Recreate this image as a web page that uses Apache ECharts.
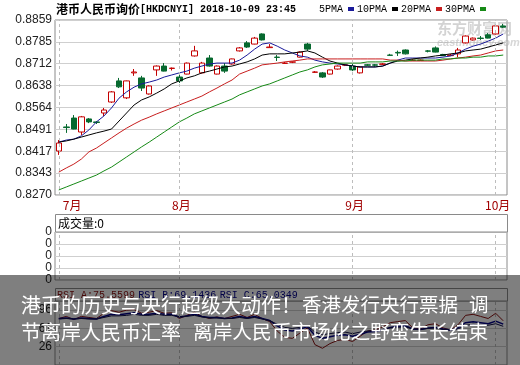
<!DOCTYPE html>
<html><head><meta charset="utf-8">
<script src="https://cdn.jsdelivr.net/npm/echarts@6/dist/echarts.min.js"></script>
<style>html,body{margin:0;padding:0;background:#fff}#c{width:520px;height:365px}</style>
</head><body><div id="c"></div>
<script>
const categories = [
 '2018-07-10','2018-07-11','2018-07-12','2018-07-13','2018-07-16','2018-07-17','2018-07-18','2018-07-19','2018-07-20','2018-07-23','2018-07-24','2018-07-25','2018-07-26','2018-07-27','2018-07-30','2018-07-31',
 '2018-08-01','2018-08-02','2018-08-03','2018-08-06','2018-08-07','2018-08-08','2018-08-09','2018-08-10','2018-08-13','2018-08-14','2018-08-15','2018-08-16','2018-08-17','2018-08-20','2018-08-21','2018-08-22','2018-08-23','2018-08-24','2018-08-27','2018-08-28','2018-08-29','2018-08-30','2018-08-31',
 '2018-09-03','2018-09-04','2018-09-05','2018-09-06','2018-09-07','2018-09-10','2018-09-11','2018-09-12','2018-09-13','2018-09-14','2018-09-17','2018-09-18','2018-09-19','2018-09-20','2018-09-21','2018-09-25','2018-09-26','2018-09-27','2018-09-28',
 '2018-10-08','2018-10-09'
];
// [open, close, low, high]
const ohlc = [
 [0.8418,0.8445,0.8405,0.8455],[0.8499,0.8497,0.8479,0.8509],[0.8529,0.8492,0.8491,0.8539],[0.8482,0.8533,0.8472,0.8536],
 [0.8526,0.8516,0.8512,0.8529],[0.8516,0.8514,0.8509,0.8519],[0.8546,0.8556,0.8536,0.8563],[0.8583,0.8617,0.8580,0.8620],
 [0.8654,0.8634,0.8630,0.8664],[0.8597,0.8654,0.8593,0.8655],[0.8681,0.8684,0.8671,0.8694],[0.8664,0.8630,0.8620,0.8671],
 [0.8610,0.8637,0.8608,0.8639],[0.8691,0.8704,0.8671,0.8706],[0.8704,0.8687,0.8686,0.8714],[0.8696,0.8697,0.8689,0.8699],
 [0.8667,0.8654,0.8647,0.8684],[0.8677,0.8714,0.8676,0.8716],[0.8738,0.8755,0.8736,0.8772],[0.8681,0.8714,0.8679,0.8718],
 [0.8731,0.8704,0.8702,0.8741],[0.8677,0.8704,0.8676,0.8706],[0.8704,0.8687,0.8681,0.8714],[0.8711,0.8728,0.8709,0.8729],
 [0.8755,0.8765,0.8753,0.8768],[0.8782,0.8768,0.8765,0.8788],[0.8778,0.8798,0.8777,0.8802],[0.8812,0.8792,0.8790,0.8814],
 [0.8766,0.8768,0.8766,0.8778],[0.8734,0.8733,0.8721,0.8741],[0.8713,0.8714,0.8711,0.8718],[0.8717,0.8718,0.8714,0.8719],
 [0.8734,0.8751,0.8733,0.8753],[0.8778,0.8761,0.8755,0.8782],[0.8683,0.8684,0.8681,0.8687],[0.8681,0.8667,0.8664,0.8684],
 [0.8677,0.8691,0.8676,0.8692],[0.8694,0.8704,0.8692,0.8706],[0.8707,0.8708,0.8704,0.8711],[0.8704,0.8691,0.8687,0.8711],
 [0.8681,0.8701,0.8679,0.8702],[0.8708,0.8707,0.8704,0.8711],[0.8708,0.8707,0.8702,0.8711],[0.8710,0.8711,0.8708,0.8714],
 [0.8741,0.8740,0.8738,0.8745],[0.8750,0.8748,0.8738,0.8756],[0.8758,0.8745,0.8743,0.8760],[0.8723,0.8724,0.8721,0.8728],
 [0.8723,0.8724,0.8721,0.8726],[0.8755,0.8754,0.8750,0.8758],[0.8765,0.8751,0.8750,0.8770],[0.8743,0.8739,0.8738,0.8745],
 [0.8739,0.8741,0.8738,0.8745],[0.8745,0.8758,0.8734,0.8765],[0.8782,0.8805,0.8780,0.8807],[0.8792,0.8798,0.8790,0.8800],
 [0.8798,0.8797,0.8792,0.8805],[0.8809,0.8798,0.8797,0.8815],[0.8812,0.8839,0.8810,0.8840],[0.8839,0.8835,0.8832,0.8846]
];
const ma5 = [0.8448,0.8455,0.8458,0.8469,0.8489,0.8516,0.8536,0.8563,0.8596,0.8617,
 0.8633,0.8644,0.8650,0.8657,0.8667,0.8674,0.8681,0.8687,0.8697,0.8704,
 0.8711,0.8714,0.8714,0.8714,0.8724,0.8741,0.8761,0.8778,0.8782,0.8771,
 0.8758,0.8748,0.8738,0.8734,0.8724,0.8718,0.8714,0.8711,0.8708,0.8704,
 0.8701,0.8701,0.8701,0.8704,0.8714,0.8724,0.8731,0.8731,0.8731,0.8731,
 0.8731,0.8734,0.8738,0.8748,0.8761,0.8771,0.8778,0.8788,0.8798,0.8812];
const ma10 = [0.8448,0.8452,0.8458,0.8465,0.8472,0.8479,0.8485,0.8492,0.8519,0.8546,
 0.8573,0.8590,0.8600,0.8613,0.8627,0.8644,0.8654,0.8664,0.8671,0.8681,
 0.8687,0.8694,0.8701,0.8704,0.8711,0.8718,0.8728,0.8741,0.8745,0.8745,
 0.8745,0.8748,0.8751,0.8755,0.8748,0.8734,0.8721,0.8714,0.8708,0.8704,
 0.8701,0.8701,0.8701,0.8704,0.8714,0.8721,0.8724,0.8728,0.8731,0.8734,
 0.8738,0.8741,0.8745,0.8748,0.8755,0.8758,0.8761,0.8768,0.8775,0.8782];
const ma20 = [0.8347,0.8361,0.8374,0.8391,0.8415,0.8428,0.8445,0.8462,0.8479,0.8495,
 0.8509,0.8522,0.8532,0.8543,0.8553,0.8563,0.8573,0.8583,0.8593,0.8603,
 0.8617,0.8630,0.8644,0.8657,0.8677,0.8687,0.8697,0.8708,0.8711,0.8714,
 0.8718,0.8721,0.8724,0.8728,0.8728,0.8728,0.8728,0.8728,0.8728,0.8728,
 0.8728,0.8728,0.8728,0.8728,0.8724,0.8724,0.8721,0.8721,0.8721,0.8721,
 0.8721,0.8724,0.8728,0.8731,0.8734,0.8738,0.8741,0.8748,0.8755,0.8758];
const ma30 = [0.8287,0.8297,0.8307,0.8317,0.8327,0.8337,0.8351,0.8364,0.8381,0.8398,
 0.8415,0.8432,0.8448,0.8465,0.8482,0.8499,0.8516,0.8529,0.8543,0.8553,
 0.8563,0.8573,0.8583,0.8593,0.8607,0.8617,0.8627,0.8637,0.8644,0.8654,
 0.8664,0.8674,0.8684,0.8691,0.8701,0.8708,0.8711,0.8714,0.8714,0.8714,
 0.8714,0.8718,0.8718,0.8718,0.8721,0.8721,0.8721,0.8724,0.8724,0.8724,
 0.8724,0.8728,0.8728,0.8731,0.8731,0.8734,0.8734,0.8738,0.8738,0.8741];
const volume = [0,0,0,0,0,0,0,0,0,0, 0,0,0,0,0,0,0,0,0,0, 0,0,0,0,0,0,0,0,0,0,
 0,0,0,0,0,0,0,0,0,0, 0,0,0,0,0,0,0,0,0,0, 0,0,0,0,0,0,0,0,0,0];
const rsiA = [80,84,78,84,82,80,90,95,92,96, 97,90,92,95,90,91,80,86,92,84,
 80,83,80,84,88,82,88,80,74,56, 44,42,52,62,30,23,32,38,40,36,
 46,56,58,64,72,74,76,62,60,68, 70,62,58,68,86,88,84,80,90,75.5599];
const rsiB = [80,81,79,81,80,79,84,88,87,89, 91,88,88,90,88,88,83,85,88,84,
 82,82,80,81,84,81,84,80,76,66, 58,56,60,64,48,42,45,48,49,46,
 50,54,55,58,63,65,66,60,59,62, 63,60,58,62,72,74,72,70,75,69.1436];
const rsiC = [79,80,79,80,79,79,82,85,85,86, 88,86,86,88,86,86,83,84,86,83,
 81,81,80,80,82,80,82,79,76,69, 63,61,63,66,54,49,51,53,54,51,
 54,56,57,59,62,63,64,60,59,61, 62,59,58,60,67,69,68,67,70,65.0349];
const priceTicks = ['0.8270','0.8343','0.8417','0.8491','0.8564','0.8638','0.8712','0.8785','0.8859'];
const volTicks = ['0','0','0','0','0'];
const rsiTicks = [26, 61, 96];

const chart = echarts.init(document.getElementById('c'));
const pMin = parseFloat(priceTicks[0]), pMax = parseFloat(priceTicks[priceTicks.length-1]);
const pInt = (pMax - pMin) / (priceTicks.length - 1);
const rStep = rsiTicks[1] - rsiTicks[0];
const rMin = rsiTicks[0] - rStep;
const monthStarts = categories.map((d,i) => (i === 0 || d.slice(5,7) !== categories[i-1].slice(5,7)) ? i : -1).filter(i => i >= 0);
const mk = () => ({silent:true, symbol:['none','none'], label:{show:false}, animation:false,
  lineStyle:{type:[3,3], color:'#bdbdbd', width:1}, emphasis:{disabled:true},
  data: monthStarts.map(i => ({xAxis: categories[i]}))});
const L = 55, W = 452;
const axisLbl = {fontFamily:'Liberation Sans', fontSize:12, color:'#222', margin:3};
const last = a => a[a.length-1].toFixed(4);
const cjk = (s) => s + 'px "Noto Sans CJK SC"';

const option = {
  animation:false,
  backgroundColor:'#fff',
  title:{text:'{c|港币人民币询价}{m|[HKDCNYI] 2018-10-09 23:45}', left:56, top:3, padding:0,
    textStyle:{rich:{c:{fontFamily:'Noto Sans CJK SC', fontSize:12, color:'#000'}, m:{fontFamily:'Liberation Mono', fontSize:10, color:'#000'}}}},
  legend:{data:['5PMA','10PMA','20PMA','30PMA'], left:319, top:4, padding:0, align:'right', icon:'rect',
    itemWidth:6, itemHeight:4, itemGap:3, selectedMode:false,
    textStyle:{fontFamily:'Liberation Mono', fontSize:10, color:'#000'}},
  grid:[
    {left:L, top:20, width:W, height:175, show:true, borderColor:'#8a8a8a', borderWidth:1},
    {left:L, top:232, width:W, height:48, show:true, borderColor:'#8a8a8a', borderWidth:1},
    {left:L, top:301, width:W, height:77, show:true, borderColor:'#8a8a8a', borderWidth:1}
  ],
  xAxis:[
    {type:'category', gridIndex:0, data:categories, boundaryGap:true, axisLine:{show:false}, axisTick:{show:false}, splitLine:{show:false},
      axisLabel:{interval:(i) => monthStarts.indexOf(i) >= 0, formatter:(v) => parseInt(v.slice(5,7), 10) + '月',
        color:'#a00000', fontFamily:'Noto Sans CJK SC', fontSize:12, margin:4, padding:[0,0,0,4], alignMinLabel:'left'}},
    {type:'category', gridIndex:1, data:categories, axisLine:{show:false}, axisTick:{show:false}, axisLabel:{show:false}, splitLine:{show:false}},
    {type:'category', gridIndex:2, data:categories, axisLine:{show:false}, axisTick:{show:false}, axisLabel:{show:false}, splitLine:{show:false}}
  ],
  yAxis:[
    {type:'value', gridIndex:0, min:pMin, max:pMax, interval:pInt, scale:true, axisLine:{show:false}, axisTick:{show:false},
      splitLine:{lineStyle:{color:'#cfcfcf'}},
      axisLabel:Object.assign({formatter:(v) => priceTicks[Math.round((v - pMin) / pInt)]}, axisLbl)},
    {type:'value', gridIndex:1, min:0, max:volTicks.length-1, interval:1, axisLine:{show:false}, axisTick:{show:false},
      splitLine:{lineStyle:{color:'#cfcfcf'}},
      axisLabel:Object.assign({formatter:(v) => volTicks[Math.round(v)]}, axisLbl)},
    {type:'value', gridIndex:2, min:rMin, max:rsiTicks[2] + 17.5, interval:rStep, axisLine:{show:false}, axisTick:{show:false},
      splitLine:{lineStyle:{color:'#cfcfcf'}},
      axisLabel:Object.assign({formatter:(v) => rsiTicks.indexOf(Math.round(v)) >= 0 ? String(Math.round(v)) : ''}, axisLbl)}
  ],
  series:[
    {type:'candlestick', name:'K', xAxisIndex:0, yAxisIndex:0, data:ohlc, barWidth:6,
      itemStyle:{color:'#ffffff', color0:'#07692f', borderColor:'#c40000', borderColor0:'#07692f', borderWidth:1},
      markLine:mk(), z:3},
    {type:'line', name:'5PMA', xAxisIndex:0, yAxisIndex:0, data:ma5, symbol:'none', color:'#1a1a9a', lineStyle:{width:1, color:'#1a1a9a'}, z:4},
    {type:'line', name:'10PMA', xAxisIndex:0, yAxisIndex:0, data:ma10, symbol:'none', color:'#000000', lineStyle:{width:1, color:'#000000'}, z:4},
    {type:'line', name:'20PMA', xAxisIndex:0, yAxisIndex:0, data:ma20, symbol:'none', color:'#c81e1e', lineStyle:{width:1, color:'#c81e1e'}, z:4},
    {type:'line', name:'30PMA', xAxisIndex:0, yAxisIndex:0, data:ma30, symbol:'none', color:'#168a16', lineStyle:{width:1, color:'#168a16'}, z:4},
    {type:'bar', name:'成交量', xAxisIndex:1, yAxisIndex:1, data:volume, barWidth:5, itemStyle:{color:'#c40000'}, markLine:mk()},
    {type:'line', name:'RSI A', xAxisIndex:2, yAxisIndex:2, data:rsiA, symbol:'none', lineStyle:{width:1, color:'#8b1010'}, markLine:mk()},
    {type:'line', name:'RSI B', xAxisIndex:2, yAxisIndex:2, data:rsiB, symbol:'none', lineStyle:{width:1.5, color:'#00008b'}},
    {type:'line', name:'RSI C', xAxisIndex:2, yAxisIndex:2, data:rsiC, symbol:'none', lineStyle:{width:1, color:'#10104a'}}
  ],
  graphic:[
    {type:'text', left:437, top:21, z:1, silent:true, style:{text:'东方财富网', font:'bold 15px "Noto Sans CJK SC"', fill:'rgba(175,175,175,0.55)'}},
    {type:'text', left:437, top:37, z:1, silent:true, style:{text:'eastmoney.com', font:'italic bold 11px "Liberation Sans"', fill:'rgba(175,175,175,0.5)'}},
    {type:'rect', z:5, silent:true, shape:{x:L+0.5, y:214.5, width:W, height:17.5}, style:{fill:'#fff', stroke:'#8a8a8a', lineWidth:1}},
    {type:'text', z:6, silent:true, x:58, y:223, style:{text:'成交量:0', font:'12px "Noto Sans CJK SC"', fill:'#000', verticalAlign:'middle'}},
    {type:'rect', z:5, silent:true, shape:{x:L+0.5, y:288.5, width:W, height:12.5}, style:{fill:'#fff', stroke:'#8a8a8a', lineWidth:1}},
    {type:'text', z:6, silent:true, x:57, y:295, style:{
      text:'{a|RSI A:' + last(rsiA) + '} {b|RSI B:' + last(rsiB) + '} {c|RSI C:' + last(rsiC) + '}',
      verticalAlign:'middle',
      rich:{a:{fontFamily:'Liberation Mono', fontSize:10, fill:'#8b1010'}, b:{fontFamily:'Liberation Mono', fontSize:10, fill:'#00008b'}, c:{fontFamily:'Liberation Mono', fontSize:10, fill:'#00008b'}}}},
    {type:'rect', z:50, silent:true, shape:{x:0, y:275, width:520, height:90}, style:{fill:'rgba(0,0,0,0.5)'}},
    {type:'text', z:51, silent:true, x:21, y:305, style:{text:'港币的历史与央行超级大动作！', font:cjk(20), fill:'#fff', verticalAlign:'middle'}},
    {type:'text', z:51, silent:true, x:302, y:305, style:{text:'香港发行央行票据', font:cjk(19.5), fill:'#fff', verticalAlign:'middle'}},
    {type:'text', z:51, silent:true, x:469, y:305, style:{text:'调', font:cjk(19.5), fill:'#fff', verticalAlign:'middle'}},
    {type:'text', z:51, silent:true, x:21, y:332, style:{text:'节离岸人民币汇率', font:cjk(20), fill:'#fff', verticalAlign:'middle'}},
    {type:'text', z:51, silent:true, x:193, y:332, style:{text:'离岸人民币市场化之野蛮生长结束', font:cjk(19.7), fill:'#fff', verticalAlign:'middle'}}
  ]
};
chart.setOption(option);
</script>
</body></html>
